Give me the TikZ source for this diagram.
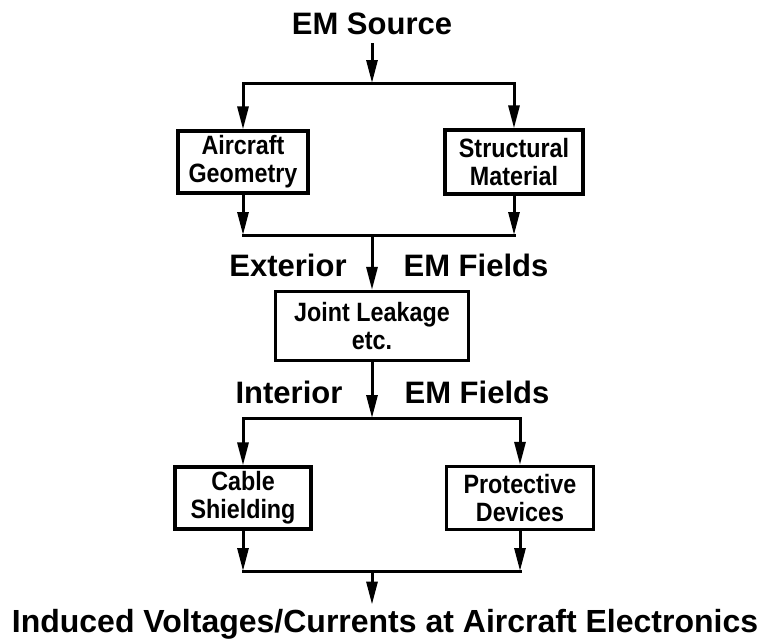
\documentclass[tikz,border=0pt]{standalone}
\usepackage{fontspec}
\setmainfont{Liberation Sans}
\newfontfamily\boxfont{Liberation Sans}[FakeStretch=0.88]
\usetikzlibrary{positioning, arrows.meta}

\tikzset{
    heading/.style={font=\fontsize{31}{36}\selectfont\bfseries, inner sep=0pt},
    block/.style={draw, line width=3.2pt, align=center, inner sep=0pt,
        font=\boxfont\fontsize{26.5}{28}\selectfont\bfseries},
}

\begin{document}
\begin{tikzpicture}[x=1pt, y=1pt, on grid, line width=3pt,
    >={Triangle[length=23pt, width=11pt]}]
    \useasboundingbox (0,0) rectangle (764,-643);

    \node[heading] (src) at (372,-24) {EM Source};
    \node[block, minimum width=130pt, minimum height=62pt] (geo) at (243,-162) {Aircraft\\Geometry};
    \node[block, minimum width=138pt, minimum height=64pt] (mat) [right=271pt of geo] {Structural\\Material};
    \node[block, minimum width=193pt, minimum height=69pt] (joint) [below=302pt of src] {Joint Leakage\\etc.};
    \node[heading] (ext) [above left=61pt and 84pt of joint] {Exterior};
    \node[heading] (emf1) [above right=61pt and 104pt of joint] {EM Fields};
    \node[heading] (int) [below left=66pt and 83pt of joint] {Interior};
    \node[heading] (emf2) [below right=66pt and 105pt of joint] {EM Fields};
    \node[block, minimum width=136pt, minimum height=62pt] (cable) [below=336pt of geo] {Cable\\Shielding};
    \node[block, minimum width=147pt, minimum height=63pt] (prot) [right=277pt of cable] {Protective\\Devices};
    \node[heading, font=\fontsize{32}{36}\selectfont\bfseries] (out) [below=600pt of src, xshift=13pt] {Induced Voltages/Currents at Aircraft Electronics};

    \coordinate (split1) at (372,-83);
    \coordinate (merge1) at (372,-235);
    \coordinate (split2) at (372,-418);
    \coordinate (merge2) at (372,-571);

    \draw[->, shorten <=7pt] (src) -- (split1);
    \draw[->] (split1) -| (geo.north);
    \draw[->] (split1) -| (mat.north);
    \draw[->] (geo.south) -- (geo.south |- merge1);
    \draw[->] (mat.south) -- (mat.south |- merge1);
    \draw[line cap=rect] (geo.south |- merge1) -- (mat.south |- merge1);
    \draw[->] (merge1) -- (joint.north);

    \draw[->] (joint.south) -- (split2);
    \draw[->] (split2) -| (cable.north);
    \draw[->] (split2) -| (prot.north);
    \draw[->] (cable.south) -- (cable.south |- merge2);
    \draw[->] (prot.south) -- (prot.south |- merge2);
    \draw[line cap=rect] (cable.south |- merge2) -- (prot.south |- merge2);
    \draw[->, shorten >=3pt] (merge2) -- (merge2 |- out.north);
\end{tikzpicture}
\end{document}
